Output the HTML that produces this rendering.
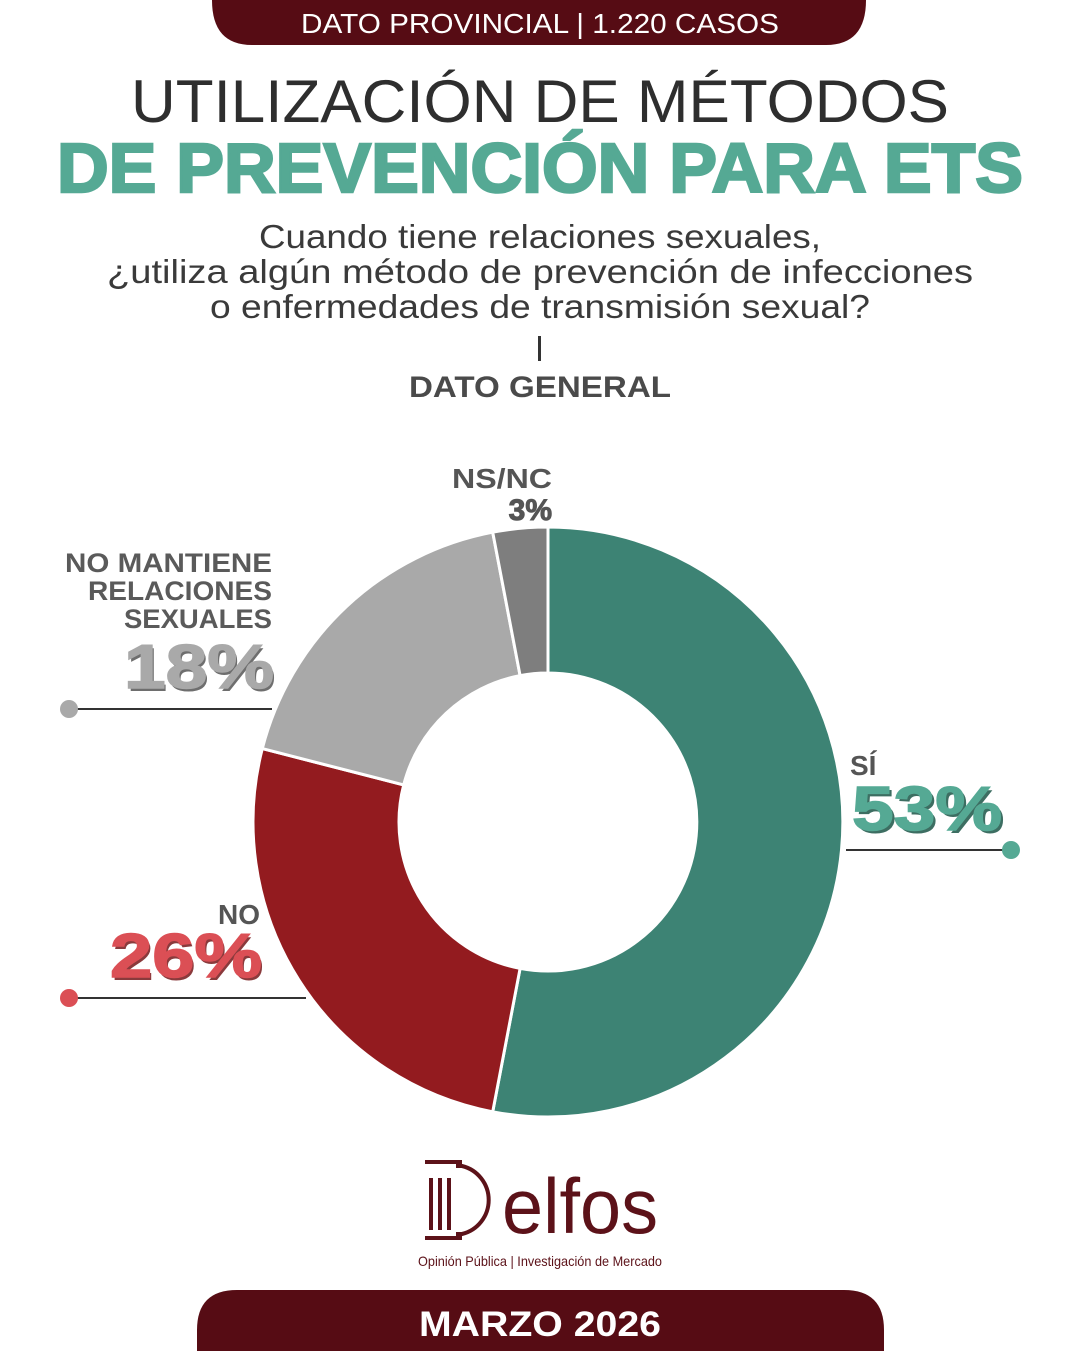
<!DOCTYPE html>
<html><head><meta charset="utf-8"><style>
html,body{margin:0;padding:0;background:#fff}
svg{display:block}
text{font-family:"Liberation Sans","DejaVu Sans",sans-serif}
</style></head><body>
<svg width="1081" height="1351" viewBox="0 0 1081 1351" xmlns="http://www.w3.org/2000/svg">
<rect width="1081" height="1351" fill="#fff"/>
<path d="M212 0 H866 Q866 45 826 45 H252 Q212 45 212 0 Z" fill="#560c14"/>
<text x="540" y="33" text-anchor="middle" font-size="28" fill="#fff" textLength="478" lengthAdjust="spacingAndGlyphs">DATO PROVINCIAL | 1.220 CASOS</text>
<text x="540" y="122" text-anchor="middle" font-size="60" fill="#2e2e2e" font-weight="300" textLength="818" lengthAdjust="spacingAndGlyphs" style="font-family:'DejaVu Sans ExtraLight','Liberation Sans',sans-serif">UTILIZACIÓN DE MÉTODOS</text>
<text x="540" y="192" text-anchor="middle" font-size="70" fill="#55a994" font-weight="900" stroke="#55a994" stroke-width="2.5" textLength="966" lengthAdjust="spacingAndGlyphs">DE PREVENCIÓN PARA ETS</text>
<g font-size="33" fill="#3a3a3a" text-anchor="middle">
<text x="540" y="248" textLength="562" lengthAdjust="spacingAndGlyphs">Cuando tiene relaciones sexuales,</text>
<text x="540" y="283" textLength="866" lengthAdjust="spacingAndGlyphs">¿utiliza algún método de prevención de infecciones</text>
<text x="540" y="318" textLength="660" lengthAdjust="spacingAndGlyphs">o enfermedades de transmisión sexual?</text>
</g>
<rect x="538" y="336" width="3" height="25" fill="#333"/>
<text x="540" y="397" text-anchor="middle" font-size="30" font-weight="bold" fill="#4a4a4a" textLength="262" lengthAdjust="spacingAndGlyphs">DATO GENERAL</text>
<g stroke="#fff" stroke-width="3" stroke-linejoin="round">
<path d="M548 527 A295 295 0 1 1 492.7 1111.8 L520.1 968.4 A149 149 0 1 0 548 673 Z" fill="#3d8374"/>
<path d="M492.7 1111.8 A295 295 0 0 1 262.3 748.6 L403.7 784.9 A149 149 0 0 0 520.1 968.4 Z" fill="#931b1f"/>
<path d="M262.3 748.6 A295 295 0 0 1 492.7 532.2 L520.1 675.6 A149 149 0 0 0 403.7 784.9 Z" fill="#a9a9a9"/>
<path d="M492.7 532.2 A295 295 0 0 1 548 527 L548 673 A149 149 0 0 0 520.1 675.6 Z" fill="#7e7e7e"/>
</g>
<g font-weight="bold">
<text x="552" y="488" text-anchor="end" font-size="28" fill="#555" textLength="100" lengthAdjust="spacingAndGlyphs">NS/NC</text>
<text x="552" y="520" text-anchor="end" font-size="30" fill="#555" stroke="#555" stroke-width="1">3%</text>
<g font-size="27" fill="#5a5a5a" text-anchor="end">
<text x="272" y="572" textLength="207" lengthAdjust="spacingAndGlyphs">NO MANTIENE</text>
<text x="272" y="600" textLength="184" lengthAdjust="spacingAndGlyphs">RELACIONES</text>
<text x="272" y="628" textLength="148" lengthAdjust="spacingAndGlyphs">SEXUALES</text>
</g>
<text x="276" y="691" text-anchor="end" font-size="62" fill="#6e6e6e" textLength="150" lengthAdjust="spacingAndGlyphs">18%</text>
<text x="274" y="688" text-anchor="end" font-size="62" fill="#a9a9a9" stroke="#a9a9a9" stroke-width="1.5" textLength="150" lengthAdjust="spacingAndGlyphs">18%</text>
<text x="850" y="775" font-size="28" fill="#555">SÍ</text>
<text x="855" y="833" font-size="62" fill="#3d6e62" textLength="150" lengthAdjust="spacingAndGlyphs">53%</text>
<text x="852" y="830" font-size="62" fill="#55a994" stroke="#55a994" stroke-width="1.5" textLength="150" lengthAdjust="spacingAndGlyphs">53%</text>
<text x="260" y="924" text-anchor="end" font-size="28" fill="#555">NO</text>
<text x="264" y="980" text-anchor="end" font-size="62" fill="#8a3a3c" textLength="152" lengthAdjust="spacingAndGlyphs">26%</text>
<text x="262" y="977" text-anchor="end" font-size="62" fill="#db4f55" stroke="#db4f55" stroke-width="1.5" textLength="152" lengthAdjust="spacingAndGlyphs">26%</text>
</g>
<line x1="70" y1="709" x2="272" y2="709" stroke="#333" stroke-width="2"/>
<circle cx="69" cy="709" r="9" fill="#a9a9a9"/>
<line x1="846" y1="850" x2="1010" y2="850" stroke="#333" stroke-width="2"/>
<circle cx="1011" cy="850" r="9" fill="#55a994"/>
<line x1="70" y1="998" x2="306" y2="998" stroke="#333" stroke-width="2"/>
<circle cx="69" cy="998" r="9" fill="#db4f55"/>
<g fill="#5c1219">
<rect x="425" y="1160" width="37" height="4"/>
<rect x="425" y="1236" width="37" height="4"/>
<rect x="429" y="1178" width="4" height="52"/>
<rect x="438" y="1178" width="4" height="52"/>
<rect x="447" y="1178" width="4" height="52"/>
</g>
<path d="M456 1166 H462 A35 35 0 0 1 462 1234 H456" fill="none" stroke="#5c1219" stroke-width="4"/>
<text x="502" y="1233" font-size="78" fill="#5c1219" font-weight="300" textLength="156" lengthAdjust="spacingAndGlyphs" style="font-family:'DejaVu Sans ExtraLight','Liberation Sans',sans-serif">elfos</text>
<text x="540" y="1266" text-anchor="middle" font-size="14" fill="#5c1219" textLength="244" lengthAdjust="spacingAndGlyphs">Opinión Pública | Investigación de Mercado</text>
<path d="M197 1351 V1330 Q197 1290 237 1290 H844 Q884 1290 884 1330 V1351 Z" fill="#560c14"/>
<text x="540" y="1336" text-anchor="middle" font-size="35" font-weight="bold" fill="#fff" textLength="242" lengthAdjust="spacingAndGlyphs">MARZO 2026</text>
</svg>
</body></html>
